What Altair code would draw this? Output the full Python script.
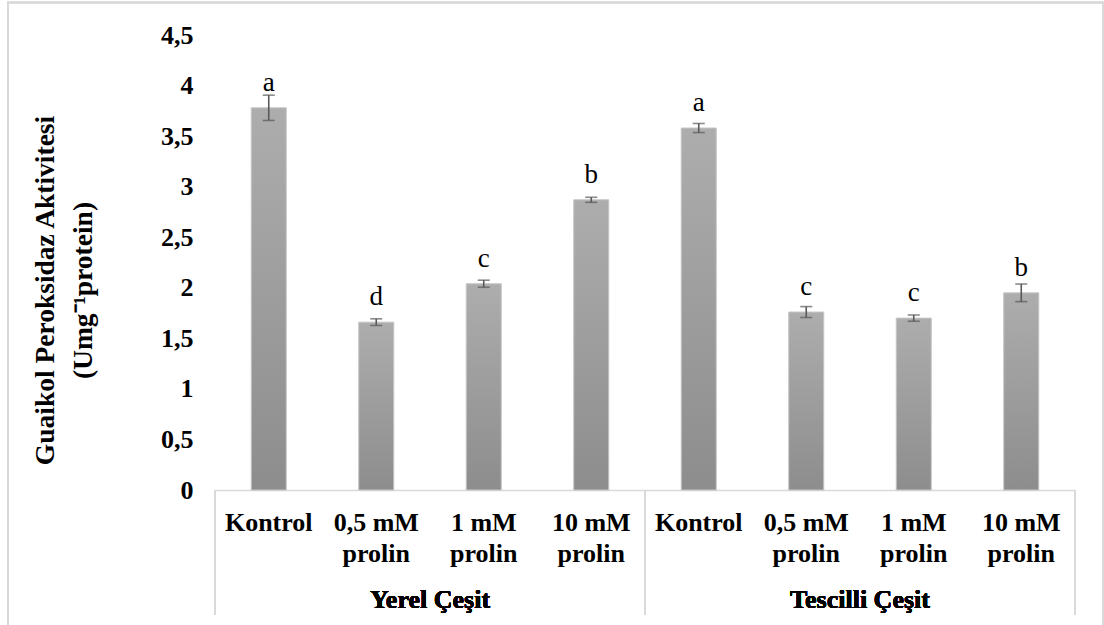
import altair as alt
import pandas as pd

# Guaiacol peroxidase activity per variety and proline treatment
groups = ["Yerel Çeşit"] * 4 + ["Tescilli Çeşit"] * 4
treatments = ["Kontrol", "0,5 mM prolin", "1 mM prolin", "10 mM prolin"] * 2
activity = [3.78, 1.66, 2.04, 2.87, 3.58, 1.76, 1.70, 1.95]
std_err = [0.125, 0.033, 0.035, 0.025, 0.045, 0.054, 0.031, 0.087]
letters = ["a", "d", "c", "b", "a", "c", "c", "b"]
y_ticks = [0, 0.5, 1, 1.5, 2, 2.5, 3, 3.5, 4, 4.5]
group_names = ["Yerel Çeşit", "Tescilli Çeşit"]
y_title = ["Guaikol Peroksidaz Aktivitesi", "(Umg⁻¹protein)"]

W, H = 860, 455
FONT = "Liberation Serif"
LINE = "#d9d9d9"
ERR = "#595959"

keys = [f"{g}|{t}" for g, t in zip(groups, treatments)]
df = pd.DataFrame({
    "key": keys,
    "value": activity,
    "lo": [v - e for v, e in zip(activity, std_err)],
    "hi": [v + e for v, e in zip(activity, std_err)],
    "letter": letters,
})

x_enc = alt.X(
    "key:N",
    sort=keys,
    scale=alt.Scale(paddingInner=0.674, paddingOuter=0.337),
    axis=alt.Axis(
        title=None,
        labelAngle=0,
        labelExpr="split(replace(split(datum.value, '|')[1], ' prolin', '|prolin'), '|')",
        labelFont=FONT,
        labelFontSize=26,
        labelFontWeight="bold",
        labelColor="black",
        labelLineHeight=31,
        labelBaseline="top",
        labelPadding=19,
        ticks=False,
        tickSize=0,
        domainColor=LINE,
        domainWidth=1.5,
        grid=False,
    ),
)

y_scale = alt.Scale(domain=[0, 4.5], nice=False)
y_axis = alt.Axis(
    values=y_ticks,
    labelExpr="replace(toString(datum.value), '.', ',')",
    labelFont=FONT,
    labelFontSize=26,
    labelFontWeight="bold",
    labelColor="black",
    labelPadding=22,
    ticks=False,
    tickSize=0,
    domain=False,
    grid=False,
    title=y_title,
    titleFont=FONT,
    titleFontSize=27.5,
    titleFontWeight="bold",
    titleColor="black",
    titleAngle=270,
    titleAlign="center",
    titleBaseline="alphabetic",
    titleLineHeight=38,
    titleX=-162,
    titleY=255,
)

base = alt.Chart(df)

bars = base.mark_bar(
    color=alt.Gradient(
        gradient="linear",
        x1=0, x2=0, y1=0, y2=1,
        stops=[
            alt.GradientStop(color="#adadad", offset=0),
            alt.GradientStop(color="#8d8d8d", offset=1),
        ],
    ),
    stroke="#c6c6c6",
    strokeWidth=1,
).encode(x=x_enc, y=alt.Y("value:Q", scale=y_scale, axis=y_axis))

err_rule = base.mark_rule(color=ERR, strokeWidth=1.6).encode(
    x=alt.X("key:N", sort=keys), y="lo:Q", y2="hi:Q"
)
cap_lo = base.mark_tick(color=ERR, orient="horizontal", size=12, thickness=1.6).encode(
    x=alt.X("key:N", sort=keys), y="lo:Q"
)
cap_hi = base.mark_tick(color=ERR, orient="horizontal", size=12, thickness=1.6).encode(
    x=alt.X("key:N", sort=keys), y="hi:Q"
)

letter_text = base.mark_text(
    font=FONT, fontSize=27, color="black", baseline="alphabetic", dy=-17
).encode(x=alt.X("key:N", sort=keys), y="value:Q", text="letter:N")

# Category-axis box: separators between the two varieties
seps = [
    alt.Chart(df).mark_rule(color=LINE, strokeWidth=1.5).encode(
        x=alt.value(px), y=alt.value(H), y2=alt.value(H + 125)
    )
    for px in (0, W / 2, W)
]

group_labels = [
    alt.Chart(df).mark_text(
        font=FONT, fontSize=26, fontWeight="bold", color="black", baseline="middle"
    ).encode(x=alt.value(px), y=alt.value(H + 110), text=alt.value(name))
    for px, name in zip((W / 4, 3 * W / 4), group_names)
]

frame = alt.Chart(df).mark_rect(fill=None, stroke=LINE, strokeWidth=1.5).encode(
    x=alt.value(-207), x2=alt.value(888), y=alt.value(-32.5), y2=alt.value(620)
)

chart = alt.layer(
    frame, bars, err_rule, cap_lo, cap_hi, letter_text, *seps, *group_labels
).properties(
    width=W,
    height=H,
    autosize=alt.AutoSizeParams(type="none"),
    padding={"left": 215, "top": 35, "right": 29, "bottom": 135},
    background="white",
).configure_view(stroke=None)

chart.save("out.html", embed_options={"renderer": "svg", "actions": False})
